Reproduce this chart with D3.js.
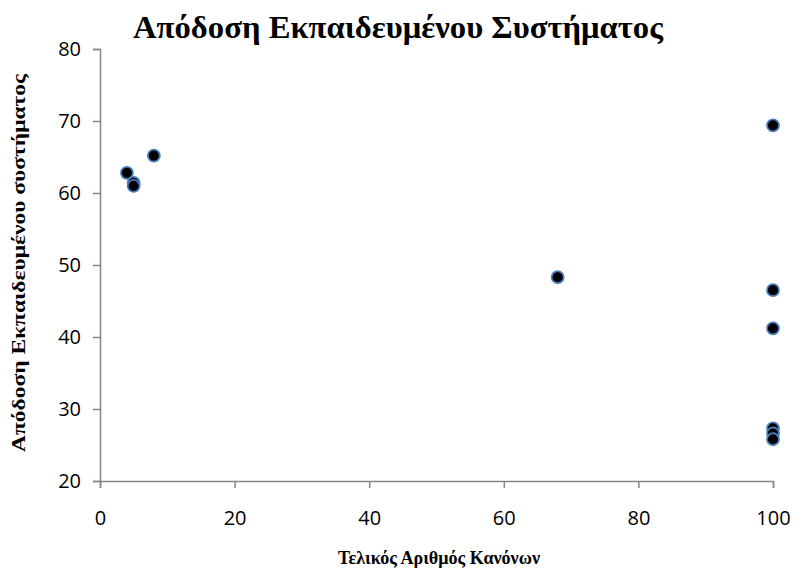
<!DOCTYPE html>
<html>
<head>
<meta charset="utf-8">
<script src="https://cdn.jsdelivr.net/npm/d3@7"></script>
<style>
  html, body { margin: 0; padding: 0; background: #fff; }
  svg { display: block; }
</style>
</head>
<body>
<svg id="chart" width="795" height="579"></svg>
<script>
// Final rule count vs. trained-system performance
const ruleCounts = [4, 5, 5, 8, 68, 100, 100, 100, 100, 100, 100];
const performance = [62.8, 61.4, 61.0, 65.2, 48.3, 69.4, 46.5, 41.2, 27.3, 26.6, 25.8];
const xTicks = [0, 20, 40, 60, 80, 100];
const yTicks = [20, 30, 40, 50, 60, 70, 80];

const titleText = "Απόδοση Εκπαιδευμένου Συστήματος";
const xLabel = "Τελικός Αριθμός Κανόνων";
const yLabel = "Απόδοση Εκπαιδευμένου συστήματος";

const svg = d3.select("#chart");
const plot = { left: 100, right: 773, top: 49, bottom: 481 };

const x = d3.scaleLinear().domain([0, 100]).range([plot.left, plot.right]);
const y = d3.scaleLinear().domain([20, 80]).range([plot.bottom, plot.top]);

const axisColor = "#868686";
const tickFont = "'Open Sans', 'Noto Sans', sans-serif";
const serif = "'Liberation Serif', 'DejaVu Serif', serif";

// X axis
const gx = svg.append("g")
  .attr("transform", `translate(0,${plot.bottom})`)
  .call(d3.axisBottom(x).tickValues(xTicks).tickSize(7).tickPadding(23).tickFormat(d3.format("d")));
gx.select(".domain").attr("stroke", axisColor).attr("stroke-width", 1.5);
gx.selectAll(".tick line").attr("stroke", axisColor).attr("stroke-width", 1.5);
gx.selectAll(".tick text").attr("fill", "#000").style("font-family", tickFont).style("font-size", "20px");

// Y axis
const gy = svg.append("g")
  .attr("transform", `translate(${plot.left},0)`)
  .call(d3.axisLeft(y).tickValues(yTicks).tickSize(7).tickPadding(12).tickFormat(d3.format("d")));
gy.select(".domain").attr("stroke", axisColor).attr("stroke-width", 1.5);
gy.selectAll(".tick line").attr("stroke", axisColor).attr("stroke-width", 1.5);
gy.selectAll(".tick text").attr("fill", "#000").style("font-family", tickFont).style("font-size", "20px");

// Points
svg.append("g")
  .selectAll("circle")
  .data(ruleCounts.map((r, i) => ({ r, p: performance[i] })))
  .join("circle")
  .attr("cx", d => x(d.r))
  .attr("cy", d => y(d.p))
  .attr("r", 6)
  .attr("fill", "#000")
  .attr("stroke", "#4a7ebb")
  .attr("stroke-width", 1.8);

// Title
svg.append("text")
  .attr("x", 398).attr("y", 38)
  .attr("text-anchor", "middle")
  .attr("textLength", 530)
  .attr("lengthAdjust", "spacingAndGlyphs")
  .style("font-family", serif)
  .style("font-weight", "bold")
  .style("font-size", "31px")
  .text(titleText);

// X axis title
svg.append("text")
  .attr("x", 439).attr("y", 564)
  .attr("text-anchor", "middle")
  .attr("textLength", 202)
  .attr("lengthAdjust", "spacingAndGlyphs")
  .style("font-family", serif)
  .style("font-weight", "bold")
  .style("font-size", "18px")
  .text(xLabel);

// Y axis title
svg.append("text")
  .attr("transform", `translate(25,263) rotate(-90)`)
  .attr("text-anchor", "middle")
  .attr("textLength", 378)
  .attr("lengthAdjust", "spacingAndGlyphs")
  .style("font-family", serif)
  .style("font-weight", "bold")
  .style("font-size", "19px")
  .text(yLabel);
</script>
</body>
</html>
